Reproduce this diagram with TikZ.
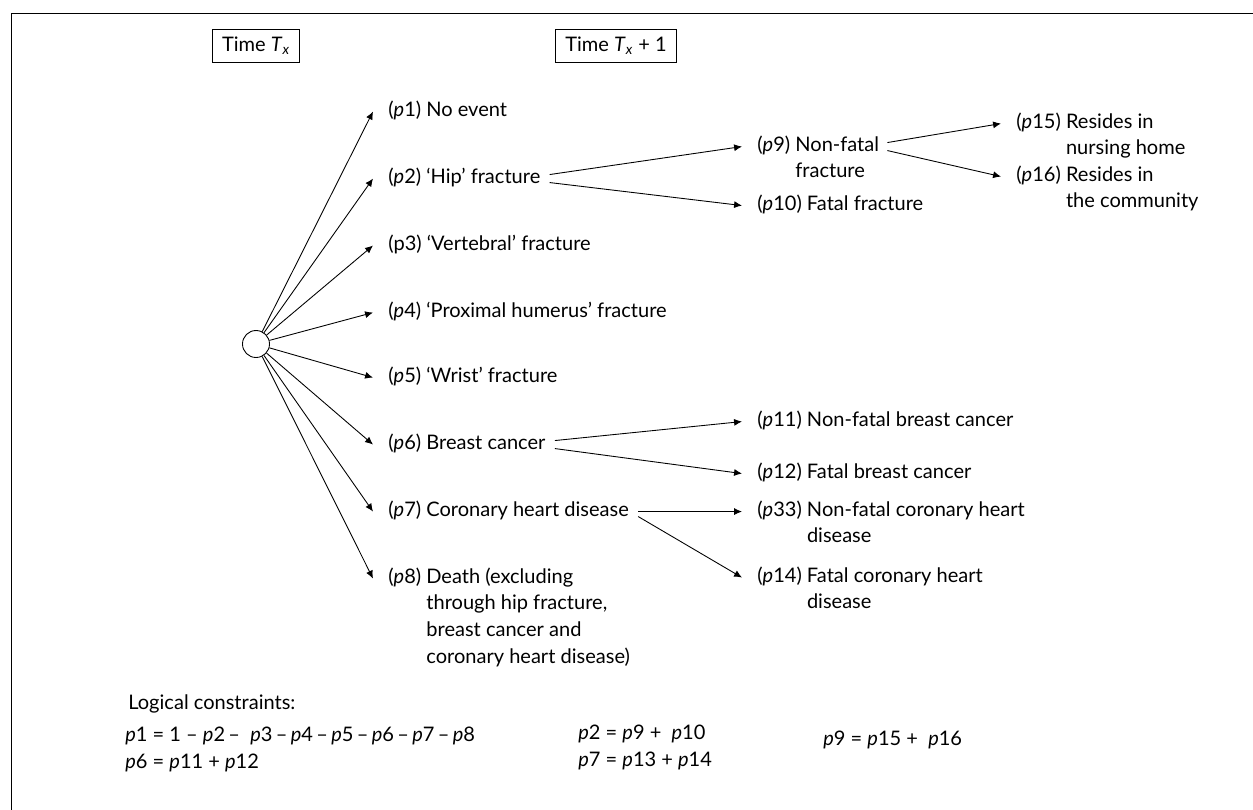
\documentclass[tikz,border=0pt]{standalone}
\usepackage{fontspec}
\setmainfont{Lato}
\usetikzlibrary{arrows.meta}
\newcommand{\pv}[1]{\textit{p}#1}
\newcommand{\ind}[1]{\phantom{(\pv{#1}) }}
\begin{document}
\begin{tikzpicture}[x=0.2mm,y=-0.2mm,
  lbl/.style={anchor=base west,inner xsep=0.3cm,inner ysep=0pt,
    font=\fontsize{11.4}{15.2}\selectfont},
  eqn/.style={lbl,align=left,inner xsep=0pt},
  arr/.style={line width=0.5pt,-{Latex[length=4.5pt,width=4pt]}},
  tbox/.style={draw,line width=0.6pt,minimum height=0.66cm,inner xsep=0.19cm,
    font=\fontsize{11.4}{14}\selectfont}]
\useasboundingbox (0,0) rectangle (1253,809);
% frame, cut off by the page on the right and at the bottom
\draw[line width=0.5pt] (11,830) |- (1270,13);

% Time headers
\node[tbox] (tx) at (256,46) {Time \textit{T}\textsubscript{\textit{x}}};
\node[tbox] (tx1) at (616,46) {Time \textit{T}\textsubscript{\textit{x}} + 1};

% Chance node
\node[draw,circle,minimum size=0.54cm,inner sep=0pt,line width=0.5pt] (c) at (256,344) {};

% Events at time Tx + 1
\node[lbl] (e1) at (373,116) {(\pv1) No event};
\node[lbl] (e2) at (373,183) {(\pv2) `Hip' fracture};
\node[lbl] (e3) at (373,250) {(p3) `Vertebral' fracture};
\node[lbl] (e4) at (373,317) {(\pv4) `Proximal humerus' fracture};
\node[lbl] (e5) at (373,382) {(\pv5) `Wrist' fracture};
\node[lbl] (e6) at (373,449) {(\pv6) Breast cancer};
\node[lbl] (e7) at (373,516) {(\pv7) Coronary heart disease};
\node[lbl] (e8) at (373,583) {\vtop{\hbox{(\pv8) Death (excluding}
  \hbox{\ind8through hip fracture,}
  \hbox{\ind8breast cancer and}
  \hbox{\ind8coronary heart disease)}}};

\draw[arr] (c) -- (e1.mid west);
\draw[arr] (c) -- (e2.mid west);
\draw[arr] (c) -- (e3.mid west);
\draw[arr] (c) -- (e4.mid west);
\draw[arr] (c) -- (e5.mid west);
\draw[arr] (c) -- (e6.mid west);
\draw[arr] (c) -- (e7.mid west);
\draw[arr] (c) -- (e8.mid west);

% Second step
\node[lbl] (e9) at (742,151) {\vtop{\hbox{(\pv9) Non-fatal}\hbox{\ind9fracture}}};
\node[lbl] (e10) at (742,210) {(\pv{10}) Fatal fracture};
\node[lbl] (e11) at (742,426) {(\pv{11}) Non-fatal breast cancer};
\node[lbl] (e12) at (742,478) {(\pv{12}) Fatal breast cancer};
\node[lbl] (e13) at (742,516) {\vtop{\hbox{(\pv{33}) Non-fatal coronary heart}\hbox{\ind{33}disease}}};
\node[lbl] (e14) at (742,582) {\vtop{\hbox{(\pv{14}) Fatal coronary heart}\hbox{\ind{14}disease}}};

\draw[arr] ([shift={(-6,-4)}]e2.mid east) -- (e9.mid west);
\draw[arr] ([shift={(-6,4)}]e2.mid east) -- (e10.mid west);
\draw[arr] ([shift={(-6,-4)}]e6.mid east) -- (e11.mid west);
\draw[arr] ([shift={(-6,4)}]e6.mid east) -- (e12.mid west);
\draw[arr] ([shift={(-6,0)}]e7.mid east) -- (e13.mid west);
\draw[arr] ([shift={(-6,5)}]e7.mid east) -- (e14.mid west);

% Third step
\node[lbl] (e15) at (1001,128) {\vtop{\hbox{(\pv{15}) Resides in}\hbox{\ind{15}nursing home}}};
\node[lbl] (e16) at (1001,181) {\vtop{\hbox{(\pv{16}) Resides in}\hbox{\ind{16}the community}}};

\draw[arr] ([shift={(-7,-4)}]e9.mid east) -- (e15.mid west);
\draw[arr] ([shift={(-7,4)}]e9.mid east) -- (e16.mid west);

% Logical constraints
\node[eqn] (lc) at (128,709) {Logical constraints:};
\node[eqn] (eq1) at (125,768) {\pv1 = 1 -- \pv2\,-- \ \pv3\,--\,\pv4\,--\,\pv5\,--\,\pv6\,--\,\pv7\,--\,\pv8\\
  \pv6 = \pv{11} + \pv{12}};
\node[eqn] (eq2) at (578,766) {\pv2 = \pv9 + \ \pv{10}\\\pv7 = \pv{13} + \pv{14}};
\node[eqn] (eq3) at (823,745) {\pv9 = \pv{15} + \ \pv{16}};

\end{tikzpicture}
\end{document}
